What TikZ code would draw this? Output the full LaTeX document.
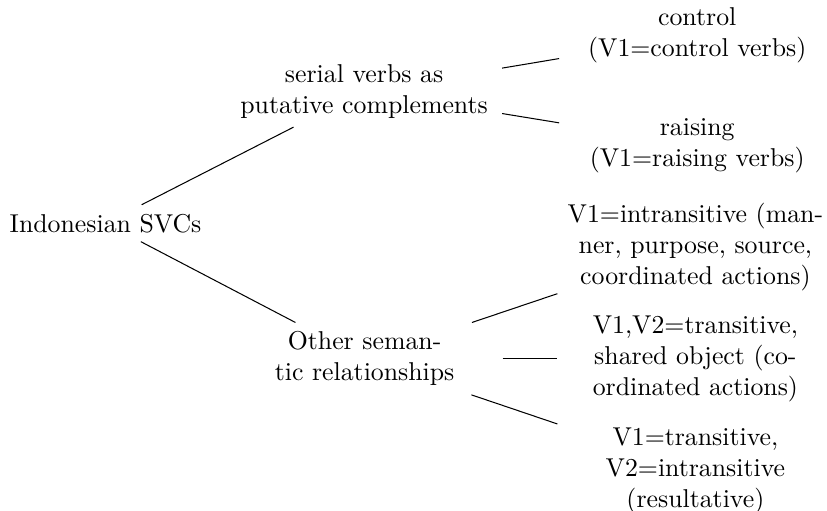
\documentclass[tikz,border=0pt]{standalone}
\tikzset{
  tnode/.style={align=center, text width=102pt, inner xsep=2.3pt, inner ysep=3.33pt},
  rootnode/.style={inner sep=3.33pt},
  branch/.style={draw, line width=0.4pt}
}
\begin{document}
\begin{tikzpicture}[x=1pt,y=-1pt]
\useasboundingbox (0,0) rectangle (320.5,197.7);
\node[rootnode] (root) at (40.9,86.5) {Indonesian SVCs};
\node[tnode] (serial) at (141.1,35.3) {serial verbs as\\putative complements};
\node[tnode] (other) at (141.3,139.0) {Other seman-\\tic relationships};
\node[tnode] (control) at (270.2,13.8) {control\\(V1=control verbs)};
\node[tnode] (raising) at (270.2,56.3) {raising\\(V1=raising verbs)};
\node[tnode] (intrans) at (269.5,95.8) {V1=intransitive (man-\\ner, purpose, source,\\coordinated actions)};
\node[tnode] (shared) at (269.5,139.0) {V1,V2=transitive,\\shared object (co-\\ordinated actions)};
\node[tnode] (result) at (269.5,182.4) {V1=transitive,\\V2=intransitive\\(resultative)};
\path[branch] (root) -- (serial);
\path[branch] (root) -- (other);
\path[branch] (serial) -- (control);
\path[branch] (serial) -- (raising);
\path[branch] (other) -- (intrans);
\path[branch] (other) -- (shared);
\path[branch] (other) -- (result);
\end{tikzpicture}
\end{document}
